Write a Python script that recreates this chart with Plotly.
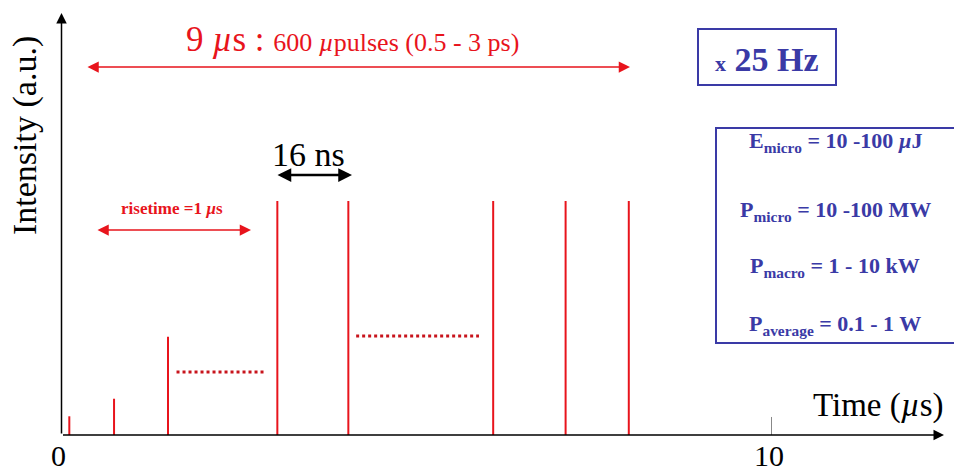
import plotly.graph_objects as go

W, H = 954, 474
# pixel calibration (x: 0 us at px 61.5, 71.0 px/us ; y: 0 at py 435, 1.0 at py 201)
X0, XS = 61.5, 71.0
Y0, YS = 435.0, 234.0

# ---- data ----
pulse_times = [0.11, 0.74, 1.5, 3.04, 4.04, 6.08, 7.1, 7.99]      # us
pulse_heights = [0.08, 0.155, 0.42, 1.0, 1.0, 1.0, 1.0, 1.0]     # a.u.
ellipsis_x = [[1.62, 2.855], [4.15, 5.88]]
ellipsis_y = [0.269, 0.423]
tick_vals = [0, 10]
tick_text = ["0", "10"]
params = [
    "E<sub>micro</sub> = 10 -100 <i>µ</i>J",
    "P<sub>micro</sub> = 10 -100 MW",
    "P<sub>macro</sub> = 1 - 10 kW",
    "P<sub>average</sub> = 0.1 - 1 W",
]

RED = "#e8141c"
BLUE = "#3a3aa6"
FONT = "Liberation Serif"

def px2x(px):
    return (px - X0) / XS

def py2y(py):
    return (Y0 - py) / YS

fig = go.Figure()

# pulses
xs, ys = [], []
for t, h in zip(pulse_times, pulse_heights):
    xs += [t, t, None]
    ys += [0, h, None]
fig.add_trace(go.Scatter(x=xs, y=ys, mode="lines",
                         line=dict(color=RED, width=2), hoverinfo="skip"))

# dotted ellipsis lines
for (xa, xb), yv in zip(ellipsis_x, ellipsis_y):
    fig.add_trace(go.Scatter(x=[xa, xb], y=[yv, yv], mode="lines",
                             line=dict(color="#c8141c", width=3, dash="dot"),
                             hoverinfo="skip"))

# tick mark at 10
fig.add_trace(go.Scatter(x=[10, 10], y=[0, 0.077], mode="lines",
                         line=dict(color="#888888", width=1), hoverinfo="skip"))

annotations = []

def arrow(x_head, y_head, x_tail, y_tail, color, width, both=False, size=1.0, head=2):
    annotations.append(dict(
        x=x_head, y=y_head, ax=x_tail, ay=y_tail,
        xref="x", yref="y", axref="x", ayref="y",
        showarrow=True, arrowhead=head, arrowsize=size, arrowwidth=width,
        arrowcolor=color, arrowside="end+start" if both else "end",
        text="", standoff=0, startstandoff=0,
        startarrowhead=head, startarrowsize=size))

# axes
arrow(px2x(944), 0, 0, 0, "black", 1.5, size=1.4)
arrow(0, py2y(13), 0, 0, "black", 1.5, size=1.4)
# 9 us span
arrow(px2x(630), py2y(67), px2x(86), py2y(67), RED, 1.5, both=True, size=1.5)
# 16 ns span
arrow(px2x(352), py2y(175), px2x(276), py2y(175), "black", 2.5, both=True, size=1.1)
# risetime span
arrow(px2x(251), py2y(230), px2x(96), py2y(230), RED, 1.5, both=True, size=1.5)

def text(px, py, s, size, color="black", xanchor="center", angle=0, yanchor="middle"):
    annotations.append(dict(
        x=px / W, y=1 - py / H, xref="paper", yref="paper", text=s,
        showarrow=False, xanchor=xanchor, yanchor=yanchor, textangle=angle,
        font=dict(family=FONT, size=size, color=color)))

text(352, 40, '9 <i>µ</i>s : <span style="font-size:26px">600 <i>µ</i>pulses (0.5 - 3 ps)</span>', 35, RED)
text(308, 154, "16 ns", 34)
text(172, 208, "<b>risetime =1 <i>µ</i>s</b>", 17, RED)
text(25, 136, "Intensity (a.u.)", 34, angle=-90)
text(878, 405, "Time (<i>µ</i>s)", 33)
for v, s in zip(tick_vals, tick_text):
    text(X0 + v * XS - 3, 455, s, 30)

# x 25 Hz box
text(767, 59, '<b><span style="font-size:22px">x</span> 25 Hz</b>', 34, BLUE)

# parameter box
for s, py in zip(params, [142, 211, 267, 325]):
    text(835, py, "<b>" + s + "</b>", 22, BLUE)

shapes = [
    dict(type="rect", xref="paper", yref="paper",
         x0=698 / W, x1=836 / W, y0=1 - 85 / H, y1=1 - 29 / H,
         line=dict(color=BLUE, width=2)),
    dict(type="rect", xref="paper", yref="paper",
         x0=716 / W, x1=960 / W, y0=1 - 343 / H, y1=1 - 128 / H,
         line=dict(color=BLUE, width=2)),
]

fig.update_layout(
    width=W, height=H, margin=dict(l=0, r=0, t=0, b=0),
    paper_bgcolor="white", plot_bgcolor="white", showlegend=False,
    xaxis=dict(range=[px2x(0), px2x(W)], visible=False, fixedrange=True),
    yaxis=dict(range=[py2y(H), py2y(0)], visible=False, fixedrange=True),
    annotations=annotations, shapes=shapes,
)

fig.write_html("out.html", config={"displayModeBar": False},
               post_script="document.body.style.margin='0';document.body.style.overflow='hidden';")
